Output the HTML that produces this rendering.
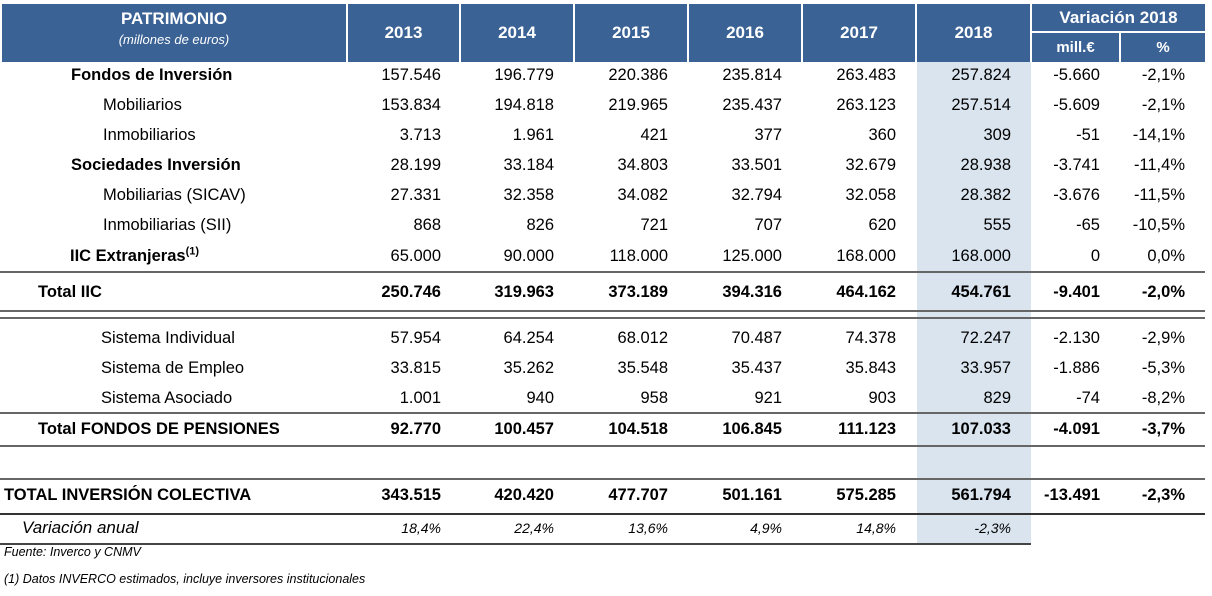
<!DOCTYPE html>
<html><head><meta charset="utf-8"><style>
body{margin:0;width:1212px;height:596px;background:#fff;font-family:"Liberation Sans",Arial,sans-serif;color:#000;position:relative;overflow:hidden}
.h{position:absolute;background:#3a6295;color:#fff;font-weight:bold;text-align:center;font-size:17px}
.hl{position:absolute;background:#d9e4ef;left:917px;width:114px;top:62px;height:481px}
.row{position:absolute;left:0;height:30px;line-height:30px;font-size:16.5px;width:1212px}
.row span{position:absolute;top:0;text-align:right}
.lb{left:0;text-align:left!important;white-space:nowrap}
.b{font-weight:bold}
.ln{position:absolute;height:2px;background:#666}
</style></head><body>
<div class="h" style="left:2px;top:4px;width:344px;height:58px"><div style="padding-top:5px;font-size:17px">PATRIMONIO</div><div style="font-weight:normal;font-style:italic;font-size:13px;margin-top:3px">(millones de euros)</div></div>
<div class="h" style="left:348px;top:4px;width:111px;height:58px;line-height:58px">2013</div>
<div class="h" style="left:461px;top:4px;width:112px;height:58px;line-height:58px">2014</div>
<div class="h" style="left:575px;top:4px;width:112px;height:58px;line-height:58px">2015</div>
<div class="h" style="left:689px;top:4px;width:112px;height:58px;line-height:58px">2016</div>
<div class="h" style="left:803px;top:4px;width:112px;height:58px;line-height:58px">2017</div>
<div class="h" style="left:917px;top:4px;width:113px;height:58px;line-height:58px">2018</div>
<div class="h" style="left:1032px;top:4px;width:173px;height:27px;line-height:27px">Variación 2018</div>
<div class="h" style="left:1032px;top:33px;width:87px;height:29px;line-height:29px;font-size:15px">mill.€</div>
<div class="h" style="left:1121px;top:33px;width:84px;height:29px;line-height:29px;font-size:15px">%</div>
<div class="hl"></div>

<div class="ln" style="left:0;width:1205px;top:271px"></div>
<div class="ln" style="left:0;width:1205px;top:310px"></div>
<div class="ln" style="left:0;width:1205px;top:317px"></div>
<div class="ln" style="left:0;width:1205px;top:412px"></div>
<div class="ln" style="left:0;width:1205px;top:445px"></div>
<div class="ln" style="left:0;width:1205px;top:478px"></div>
<div class="ln" style="left:0;width:1205px;top:513px;background:#333"></div>
<div class="ln" style="left:0;width:1031px;top:543px;background:#444"></div>

<div style="position:absolute;left:4px;top:545px;font-size:12.5px;font-style:italic">Fuente: Inverco y CNMV</div>
<div style="position:absolute;left:4px;top:572px;font-size:12.5px;font-style:italic">(1) Datos INVERCO estimados, incluye inversores institucionales</div>

<div class="row" style="top:60px"><span class="lb b" style="left:71px">Fondos de Inversión</span><span style="right:771px">157.546</span><span style="right:658px">196.779</span><span style="right:544px">220.386</span><span style="right:430px">235.814</span><span style="right:316px">263.483</span><span style="right:201px">257.824</span><span style="right:112px">-5.660</span><span style="right:27px">-2,1%</span></div>
<div class="row" style="top:90px"><span class="lb" style="left:103px">Mobiliarios</span><span style="right:771px">153.834</span><span style="right:658px">194.818</span><span style="right:544px">219.965</span><span style="right:430px">235.437</span><span style="right:316px">263.123</span><span style="right:201px">257.514</span><span style="right:112px">-5.609</span><span style="right:27px">-2,1%</span></div>
<div class="row" style="top:120px"><span class="lb" style="left:103px">Inmobiliarios</span><span style="right:771px">3.713</span><span style="right:658px">1.961</span><span style="right:544px">421</span><span style="right:430px">377</span><span style="right:316px">360</span><span style="right:201px">309</span><span style="right:112px">-51</span><span style="right:27px">-14,1%</span></div>
<div class="row" style="top:150px"><span class="lb b" style="left:71px">Sociedades Inversión</span><span style="right:771px">28.199</span><span style="right:658px">33.184</span><span style="right:544px">34.803</span><span style="right:430px">33.501</span><span style="right:316px">32.679</span><span style="right:201px">28.938</span><span style="right:112px">-3.741</span><span style="right:27px">-11,4%</span></div>
<div class="row" style="top:180px"><span class="lb" style="left:103px">Mobiliarias (SICAV)</span><span style="right:771px">27.331</span><span style="right:658px">32.358</span><span style="right:544px">34.082</span><span style="right:430px">32.794</span><span style="right:316px">32.058</span><span style="right:201px">28.382</span><span style="right:112px">-3.676</span><span style="right:27px">-11,5%</span></div>
<div class="row" style="top:210px"><span class="lb" style="left:103px">Inmobiliarias (SII)</span><span style="right:771px">868</span><span style="right:658px">826</span><span style="right:544px">721</span><span style="right:430px">707</span><span style="right:316px">620</span><span style="right:201px">555</span><span style="right:112px">-65</span><span style="right:27px">-10,5%</span></div>
<div class="row" style="top:241px"><span class="lb b" style="left:70px">IIC Extranjeras<sup style="font-size:11px;line-height:0">(1)</sup></span><span style="right:771px">65.000</span><span style="right:658px">90.000</span><span style="right:544px">118.000</span><span style="right:430px">125.000</span><span style="right:316px">168.000</span><span style="right:201px">168.000</span><span style="right:112px">0</span><span style="right:27px">0,0%</span></div>
<div class="row b" style="top:277px"><span class="lb" style="left:38px">Total IIC</span><span style="right:771px">250.746</span><span style="right:658px">319.963</span><span style="right:544px">373.189</span><span style="right:430px">394.316</span><span style="right:316px">464.162</span><span style="right:201px">454.761</span><span style="right:112px">-9.401</span><span style="right:27px">-2,0%</span></div>
<div class="row" style="top:323px"><span class="lb" style="left:101px">Sistema Individual</span><span style="right:771px">57.954</span><span style="right:658px">64.254</span><span style="right:544px">68.012</span><span style="right:430px">70.487</span><span style="right:316px">74.378</span><span style="right:201px">72.247</span><span style="right:112px">-2.130</span><span style="right:27px">-2,9%</span></div>
<div class="row" style="top:353px"><span class="lb" style="left:101px">Sistema de Empleo</span><span style="right:771px">33.815</span><span style="right:658px">35.262</span><span style="right:544px">35.548</span><span style="right:430px">35.437</span><span style="right:316px">35.843</span><span style="right:201px">33.957</span><span style="right:112px">-1.886</span><span style="right:27px">-5,3%</span></div>
<div class="row" style="top:383px"><span class="lb" style="left:101px">Sistema Asociado</span><span style="right:771px">1.001</span><span style="right:658px">940</span><span style="right:544px">958</span><span style="right:430px">921</span><span style="right:316px">903</span><span style="right:201px">829</span><span style="right:112px">-74</span><span style="right:27px">-8,2%</span></div>
<div class="row b" style="top:414px"><span class="lb" style="left:38px">Total FONDOS DE PENSIONES</span><span style="right:771px">92.770</span><span style="right:658px">100.457</span><span style="right:544px">104.518</span><span style="right:430px">106.845</span><span style="right:316px">111.123</span><span style="right:201px">107.033</span><span style="right:112px">-4.091</span><span style="right:27px">-3,7%</span></div>
<div class="row b" style="top:480px"><span class="lb" style="left:4px">TOTAL INVERSIÓN COLECTIVA</span><span style="right:771px">343.515</span><span style="right:658px">420.420</span><span style="right:544px">477.707</span><span style="right:430px">501.161</span><span style="right:316px">575.285</span><span style="right:201px">561.794</span><span style="right:112px">-13.491</span><span style="right:27px">-2,3%</span></div>
<div class="row" style="top:513px;font-style:italic;font-size:14px"><span class="lb" style="left:22px;font-size:17px">Variación anual</span><span style="right:771px">18,4%</span><span style="right:658px">22,4%</span><span style="right:544px">13,6%</span><span style="right:430px">4,9%</span><span style="right:316px">14,8%</span><span style="right:201px">-2,3%</span></div>
</body></html>
